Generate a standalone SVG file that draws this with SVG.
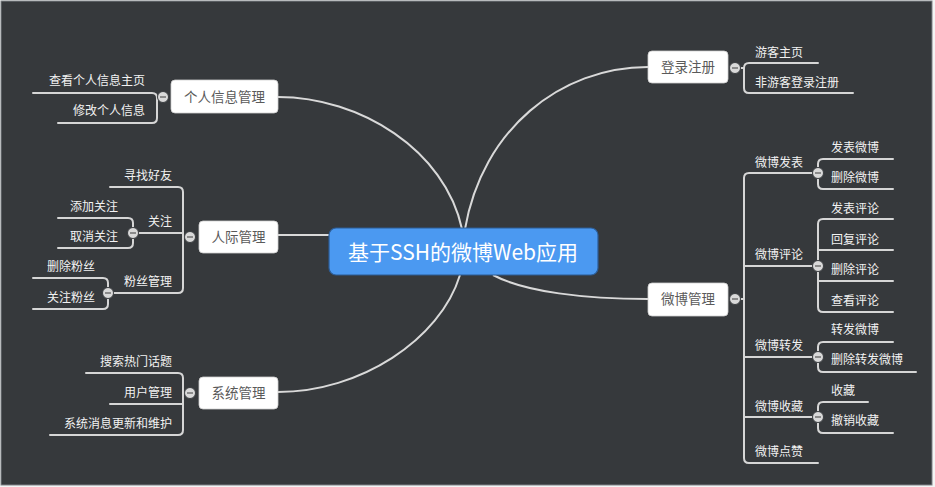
<svg xmlns="http://www.w3.org/2000/svg" width="935" height="487" viewBox="0 0 935 487">
<style>
.ln{fill:none;stroke:#d6d6d6;stroke-width:2;stroke-linecap:round}
.mn{fill:none;stroke:#d9d9d9;stroke-width:2}
.box{fill:#ffffff;stroke:#cfcfcf;stroke-width:0.8}
.nt{font-family:"Noto Sans CJK SC","Liberation Sans",sans-serif;font-size:13.5px;fill:#5a5a5a;text-anchor:middle}
.lb{font-family:"Noto Sans CJK SC","Liberation Sans",sans-serif;font-size:12px;fill:#f2f2f2}
.l{text-anchor:end}
.r{text-anchor:start}
.ct{font-family:"Noto Sans CJK SC","Liberation Sans",sans-serif;font-size:21px;fill:#ffffff;text-anchor:middle}
.cc{fill:#d9d9d9;stroke:#3a3d40;stroke-width:1}
.cm{stroke:#555;stroke-width:1.2}
</style>
<defs>
<g id="tog"><circle class="cc" cx="0" cy="0" r="5.5"/><line class="cm" x1="-3" y1="0" x2="3" y2="0"/></g>
</defs>
<rect x="0" y="0" width="935" height="487" fill="#f4f4f4"/>
<rect x="1" y="1" width="931" height="484" fill="#36393c" stroke="#7d8185" stroke-width="1"/>

<g id="connectors">
<path class="mn" d="M462,229 C445,150 360,97 278,97"/>
<path class="mn" d="M465,229 C482,130 560,67 648,67"/>
<path class="mn" d="M329,235 H278"/>
<path class="mn" d="M460,275 C440,340 360,392 278,392"/>
<path class="mn" d="M493,275 C525,292 585,299 648,299"/>

<path class="ln" d="M33,93 H152 Q157,93 157,98 V118 Q157,123 152,123 H58 M157,97 H163"/>
<path class="ln" d="M110,187 H178 Q183,187 183,192 V288 Q183,293 178,293 H108 M133,233 H183 M183,237 H190"/>
<path class="ln" d="M58,218 H128 Q133,218 133,223 V243 Q133,248 128,248 H58"/>
<path class="ln" d="M33,278 H103 Q108,278 108,283 V304 Q108,309 103,309 H33"/>
<path class="ln" d="M86,373 H178 Q183,373 183,378 V430 Q183,435 178,435 H50 M110,404 H183 M183,393 H190"/>

<path class="ln" d="M818,63 H749 Q744,63 744,68 V88 Q744,93 749,93 H853 M735,68 H744"/>
<path class="ln" d="M818,173 H749 Q744,173 744,178 V458 Q744,463 749,463 H818 M744,266 H818 M744,357 H818 M744,417 H818 M735,299 H744"/>
<path class="ln" d="M893,159 H823 Q818,159 818,164 V184 Q818,189 823,189 H893"/>
<path class="ln" d="M893,219 H823 Q818,219 818,224 V307 Q818,312 823,312 H893 M818,250 H893 M818,281 H893"/>
<path class="ln" d="M893,342 H823 Q818,342 818,347 V367 Q818,372 823,372 H916"/>
<path class="ln" d="M868,402 H823 Q818,402 818,407 V428 Q818,433 823,433 H893"/>
</g>

<g id="center">
<rect x="329" y="228" width="269" height="47" rx="7" fill="#4b99f1" stroke="#2d5c94" stroke-width="1.2"/>
<text class="ct" x="463" y="260">基于SSH的微博Web应用</text>
</g>

<g id="n-grxx">
<rect class="box" x="171" y="80" width="107" height="33" rx="4"/>
<text class="nt" x="224.5" y="102">个人信息管理</text>
<use href="#tog" x="163" y="97"/>
<text class="lb l" x="145" y="85">查看个人信息主页</text>
<text class="lb l" x="145" y="115">修改个人信息</text>
</g>

<g id="n-rjgl">
<rect class="box" x="199" y="221" width="79" height="32" rx="4"/>
<text class="nt" x="238.5" y="242">人际管理</text>
<use href="#tog" x="190" y="237"/>
<text class="lb l" x="172" y="180">寻找好友</text>
<text class="lb l" x="172" y="226">关注</text>
<text class="lb l" x="172" y="286">粉丝管理</text>
</g>
<g id="n-gz">
<use href="#tog" x="133" y="233"/>
<text class="lb l" x="118" y="211">添加关注</text>
<text class="lb l" x="118" y="241">取消关注</text>
</g>
<g id="n-fsgl">
<use href="#tog" x="108" y="293"/>
<text class="lb l" x="95" y="271">删除粉丝</text>
<text class="lb l" x="95" y="302">关注粉丝</text>
</g>

<g id="n-xtgl">
<rect class="box" x="199" y="377" width="79" height="32" rx="4"/>
<text class="nt" x="238.5" y="398">系统管理</text>
<use href="#tog" x="190" y="393"/>
<text class="lb l" x="172" y="366">搜索热门话题</text>
<text class="lb l" x="172" y="397">用户管理</text>
<text class="lb l" x="172" y="428">系统消息更新和维护</text>
</g>

<g id="n-dlzc">
<rect class="box" x="648" y="51" width="80" height="32" rx="4"/>
<text class="nt" x="688" y="72">登录注册</text>
<use href="#tog" x="735" y="68"/>
<text class="lb r" x="755" y="57">游客主页</text>
<text class="lb r" x="755" y="87">非游客登录注册</text>
</g>

<g id="n-wbgl">
<rect class="box" x="648" y="283" width="80" height="33" rx="4"/>
<text class="nt" x="688" y="304">微博管理</text>
<use href="#tog" x="735" y="299"/>
<text class="lb r" x="755" y="167">微博发表</text>
<text class="lb r" x="755" y="259">微博评论</text>
<text class="lb r" x="755" y="350">微博转发</text>
<text class="lb r" x="755" y="411">微博收藏</text>
<text class="lb r" x="755" y="456">微博点赞</text>
</g>
<g id="n-wbfb">
<use href="#tog" x="818" y="173"/>
<text class="lb r" x="831" y="152">发表微博</text>
<text class="lb r" x="831" y="182">删除微博</text>
</g>
<g id="n-wbpl">
<use href="#tog" x="818" y="266"/>
<text class="lb r" x="831" y="213">发表评论</text>
<text class="lb r" x="831" y="244">回复评论</text>
<text class="lb r" x="831" y="274">删除评论</text>
<text class="lb r" x="831" y="305">查看评论</text>
</g>
<g id="n-wbzf">
<use href="#tog" x="818" y="357"/>
<text class="lb r" x="831" y="334">转发微博</text>
<text class="lb r" x="831" y="364">删除转发微博</text>
</g>
<g id="n-wbsc">
<use href="#tog" x="818" y="417"/>
<text class="lb r" x="831" y="395">收藏</text>
<text class="lb r" x="831" y="425">撤销收藏</text>
</g>
</svg>
